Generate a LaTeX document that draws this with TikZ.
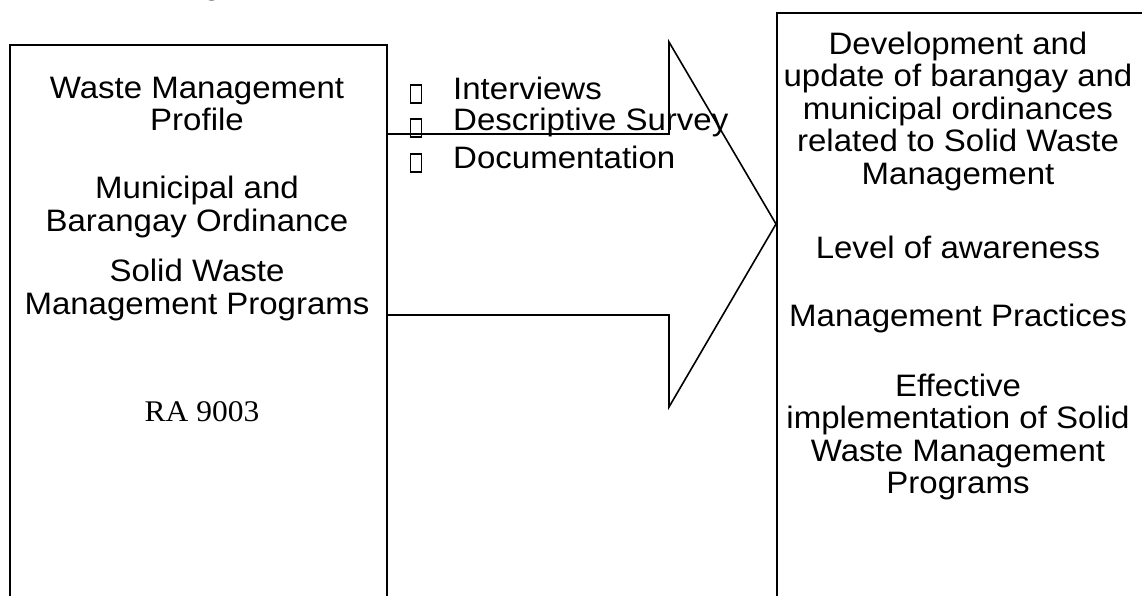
\documentclass[tikz,border=0pt]{standalone}
\usepackage{fontspec}
\setmainfont{Liberation Sans}[FakeStretch=1.065]
\newfontfamily\timesf{Liberation Serif}[FakeStretch=1.05]
\begin{document}
\begin{tikzpicture}[x=1pt,y=-1pt,
  txt/.style={align=center, inner sep=0pt, font=\fontsize{31}{32.5}\selectfont},
  boxframe/.style={draw, line width=2pt, inner sep=0pt},
  bulletbox/.style={draw, line width=1.6pt, minimum width=11pt, minimum height=18pt, inner sep=0pt},
  arrowline/.style={line width=1.6pt, line join=miter}]
\useasboundingbox (0,0) rectangle (1142,596);
\clip (0,0) rectangle (1142,596);
\fill[white] (0,0) rectangle (1142,596);
% title fragment (cut off at top)
\node[txt, anchor=base] (title) at (212,-5) {g};
% boxes
\node[boxframe, anchor=north west, minimum width=377pt, minimum height=620pt] (src) at (9,44) {};
\node[boxframe, anchor=north west, minimum width=420pt, minimum height=640pt] (tgt) at (776,12) {};
% big arrow
\coordinate (a1) at (386,134);
\coordinate (a2) at (669,134);
\coordinate (a3) at (669,42);
\coordinate (tip) at (776,224);
\coordinate (a5) at (669,407);
\coordinate (a6) at (669,315);
\coordinate (a7) at (386,315);
\draw[arrowline] (a1) -- (a2) -- (a3) -- (tip) -- (a5) -- (a6) -- (a7);
% left texts
\node[txt] (l1) at (197,104) {Waste Management\\Profile};
\node[txt] (l2) at (197,207) {Municipal and\\Barangay Ordinance};
\node[txt] (l3) at (197,290) {Solid Waste\\Management Programs};
\node[txt, font=\fontsize{30}{32}\selectfont\timesf] (l4) at (202,412) {RA 9003};
% bullets
\node[bulletbox] (b1) at (416,94) {};
\node[bulletbox] (b2) at (416,128) {};
\node[bulletbox] (b3) at (416,163) {};
\node[txt, anchor=west] (m1) at (453,88) {Interviews};
\node[txt, anchor=west] (m2) at (453,122) {Descriptive Survey};
\node[txt, anchor=west] (m3) at (453,157) {Documentation};
% right texts
\node[txt] (r1) at (958,111) {Development and\\update of barangay and\\municipal ordinances\\related to Solid Waste\\Management};
\node[txt] (r2) at (958,247) {Level of awareness};
\node[txt] (r3) at (958,318) {Management Practices};
\node[txt] (r4) at (958,437) {Effective\\implementation of Solid\\Waste Management\\Programs};
\end{tikzpicture}
\end{document}
